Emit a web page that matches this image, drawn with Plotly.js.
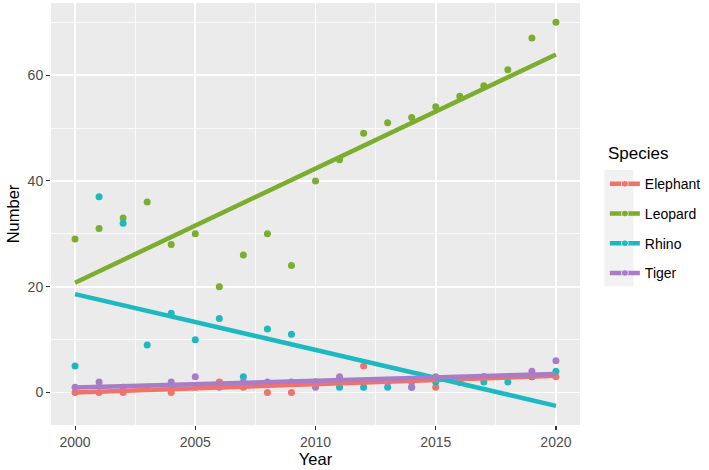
<!DOCTYPE html>
<html>
<head>
<meta charset="utf-8">
<script src="https://cdn.plot.ly/plotly-3.0.1.min.js"></script>
<style>
  body { margin: 0; background: #fff; }
  #myPlot { width: 709px; height: 470px; }
</style>
</head>
<body>
<div id="myPlot"></div>
<script>
const years = [2000,2001,2002,2003,2004,2005,2006,2007,2008,2009,2010,
               2011,2012,2013,2014,2015,2016,2017,2018,2019,2020];
const species = ["Elephant", "Leopard", "Rhino", "Tiger"];
const elephant = [0,0,0,1,0,1,2,1,0,0,2,2,5,2,2,1,2,3,3,3,3];
const leopard = [29,31,33,36,28,30,20,26,30,24,40,44,49,51,52,54,56,58,61,67,70];
const rhino = [5,37,32,9,15,10,14,3,12,11,2,1,1,1,1,2,2,2,2,3,4];
const tiger = [1,2,1,1,2,3,1,2,2,2,1,3,2,2,1,3,2,3,3,4,6];
const xTicks = [2000, 2005, 2010, 2015, 2020];
const yTicks = [0, 20, 40, 60];

const counts = [elephant, leopard, rhino, tiger];
const colors = ["#F0736B", "#7BAD2E", "#1DB9C0", "#A87CC6"];

// least squares line, like geom_smooth(method = "lm")
function fitLine(xs, ys) {
  let n = xs.length, mx = 0, my = 0;
  for (let i = 0; i < n; i++) { mx += xs[i]; my += ys[i]; }
  mx /= n; my /= n;
  let sxy = 0, sxx = 0;
  for (let i = 0; i < n; i++) {
    sxy += (xs[i] - mx) * (ys[i] - my);
    sxx += (xs[i] - mx) * (xs[i] - mx);
  }
  let b = sxy / sxx;
  return x => my + b * (x - mx);
}

let pointTraces = [];
let lineTraces = [];
let allY = [];
let x0 = years[0], x1 = years[years.length - 1];

species.forEach((name, i) => {
  let f = fitLine(years, counts[i]);
  let ends = [f(x0), f(x1)];
  allY = allY.concat(counts[i], ends);

  pointTraces.push({
    x: years, y: counts[i],
    type: "scatter", mode: "markers",
    name: name, legendgroup: name, showlegend: false,
    marker: {color: colors[i], size: 7},
    hoverinfo: "x+y+name"
  });

  // third point is empty, it only sets the dot size shown in the legend
  lineTraces.push({
    x: [x0, x1, x1], y: [ends[0], ends[1], null],
    type: "scatter", mode: "lines+markers",
    name: name, legendgroup: name,
    line: {color: colors[i], width: 4.5},
    marker: {color: colors[i], size: [0, 0, 21]},
    hoverinfo: "skip"
  });
});

// ggplot style 5% padding
let yLo = Math.min(...allY), yHi = Math.max(...allY);
let yPad = (yHi - yLo) * 0.05;
let xPad = (x1 - x0) * 0.05;

const layout = {
  width: 709, height: 470,
  margin: {l: 51, r: 125, t: 3, b: 45},
  paper_bgcolor: "#FFFFFF",
  plot_bgcolor: "#EBEBEB",
  font: {family: "Liberation Sans, Arial, sans-serif", color: "#000000"},
  xaxis: {
    range: [x0 - xPad, x1 + xPad],
    tickvals: xTicks,
    ticks: "outside", ticklen: 4, tickwidth: 1.1, tickcolor: "#333333",
    tickfont: {size: 14, color: "#4D4D4D"},
    showgrid: true, gridcolor: "#FFFFFF", gridwidth: 1.6,
    minor: {dtick: 2.5, tick0: 2000, showgrid: true, gridcolor: "#FFFFFF", gridwidth: 0.8},
    zeroline: false, showline: false,
    title: {text: "Year", font: {size: 16.5}, standoff: 1}
  },
  yaxis: {
    range: [yLo - yPad, yHi + yPad],
    tickvals: yTicks,
    ticks: "outside", ticklen: 4, tickwidth: 1.1, tickcolor: "#333333",
    tickfont: {size: 14, color: "#4D4D4D"},
    showgrid: true, gridcolor: "#FFFFFF", gridwidth: 1.6,
    minor: {dtick: 10, tick0: 0, showgrid: true, gridcolor: "#FFFFFF", gridwidth: 0.8},
    zeroline: false, showline: false,
    title: {text: "Number", font: {size: 16.5}, standoff: 3}
  },
  legend: {
    x: 1.047, xanchor: "left",
    y: 0.6085, yanchor: "top",
    bgcolor: "rgba(0,0,0,0)",
    traceorder: "grouped",
    tracegroupgap: 8.5,
    itemwidth: 30,
    font: {size: 14, color: "#000000"}
  },
  // legend title, placed by hand to get the ggplot spacing
  annotations: [{
    text: "Species", showarrow: false,
    xref: "paper", yref: "paper",
    x: 1.0488, xanchor: "left",
    y: 0.6445, yanchor: "middle",
    font: {size: 17, color: "#000000"}
  }],
  // grey key background behind the legend symbols
  shapes: [{
    type: "rect", xref: "paper", yref: "paper",
    x0: 1.046, x1: 1.101, y0: 0.329, y1: 0.604,
    fillcolor: "#F2F2F2", line: {width: 0}, layer: "below"
  }],
  showlegend: true
};

Plotly.newPlot("myPlot", pointTraces.concat(lineTraces), layout, {displayModeBar: false, staticPlot: true});
</script>
</body>
</html>
